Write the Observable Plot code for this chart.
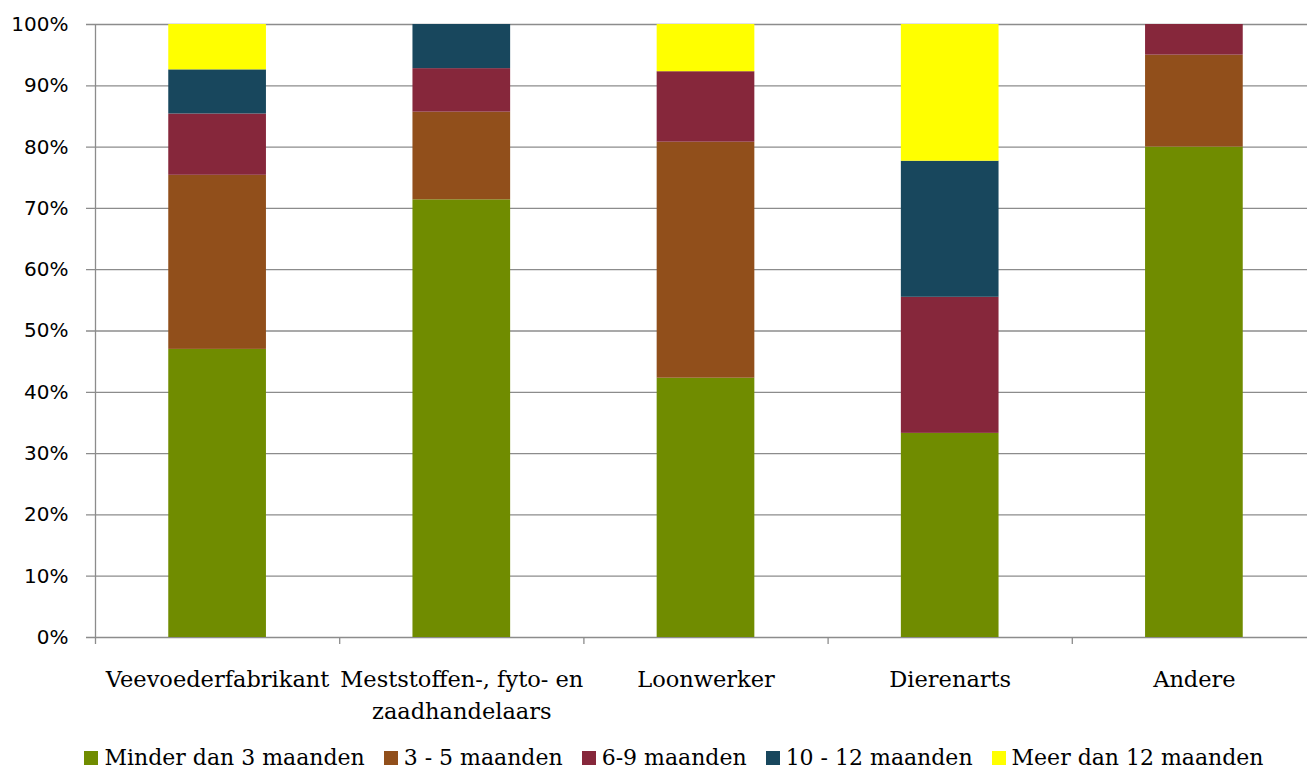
<!DOCTYPE html>
<html>
<head>
<meta charset="utf-8">
<script src="https://cdn.jsdelivr.net/npm/d3@7"></script>
<script src="https://cdn.jsdelivr.net/npm/@observablehq/plot@0.6"></script>
<style>
  html, body { margin: 0; padding: 0; background: #fff; overflow: hidden; }
  #chart svg { display: block; max-width: none !important; }
  #legend {
    display: flex; justify-content: center; align-items: center;
    width: 1307px; margin-top: 17px; padding-left: 60px; box-sizing: border-box;
    font-family: "DejaVu Serif", serif; font-size: 22px; line-height: 22px; color: #000;
  }
  .item { display: flex; align-items: center; margin-right: 19px; white-space: nowrap; }
  .sw { width: 14px; height: 14px; margin-right: 6px; display: inline-block; }
</style>
</head>
<body>
<div id="chart"></div>
<div id="legend"></div>
<script>
const categories = ["Veevoederfabrikant", "Meststoffen-, fyto- en zaadhandelaars", "Loonwerker", "Dierenarts", "Andere"];
const categoryLabels = ["Veevoederfabrikant", "Meststoffen-, fyto- en\nzaadhandelaars", "Loonwerker", "Dierenarts", "Andere"];
const series = ["Minder dan 3 maanden", "3 - 5 maanden", "6-9 maanden", "10 - 12 maanden", "Meer dan 12 maanden"];
const minderDan3 = [47.0, 71.4, 42.3, 33.3, 80.0];
const van3tot5 = [28.4, 14.3, 38.5, 0, 15.0];
const van6tot9 = [10.0, 7.1, 11.5, 22.2, 5.0];
const van10tot12 = [7.2, 7.2, 0, 22.2, 0];
const meerDan12 = [7.4, 0, 7.7, 22.3, 0];
const colors = ["#708C00", "#914F1B", "#86273B", "#18475D", "#FFFF00"];
const yTicks = [0, 10, 20, 30, 40, 50, 60, 70, 80, 90, 100];

const seriesValues = [minderDan3, van3tot5, van6tot9, van10tot12, meerDan12];
const data = [];
series.forEach((s, si) => {
  categories.forEach((c, ci) => {
    data.push({category: c, series: s, value: seriesValues[si][ci]});
  });
});

const W = 1316, H = 730, mL = 95, mR = 0, mT = 24, mB = 93;
const step = (W - mL - mR) / categories.length;
const labelOf = new Map(categories.map((c, i) => [c, categoryLabels[i]]));

const chart = Plot.plot({
  width: W, height: H,
  marginLeft: mL, marginRight: mR, marginTop: mT, marginBottom: mB,
  style: {fontFamily: "DejaVu Serif, serif", fontSize: "20px", color: "#000", background: "#fff", maxWidth: "none"},
  x: {domain: categories, paddingInner: 0.6, paddingOuter: 0.3, round: false, label: null},
  y: {domain: [0, 100], label: null},
  color: {domain: series, range: colors},
  marks: [
    Plot.gridY(yTicks, {stroke: "#8c8c8c", strokeOpacity: 1, strokeWidth: 1.3, insetLeft: -9}),
    Plot.barY(data, {x: "category", y: "value", fill: "series", order: series}),
    Plot.ruleX(categories.slice(1), {x: d => d, y1: 0, y2: 0, dx: -step / 2, insetBottom: -7, stroke: "#8c8c8c", strokeWidth: 1.3}),
    Plot.ruleX([categories[0]], {x: d => d, y1: 100, y2: 0, dx: -step / 2, insetBottom: -7, stroke: "#8c8c8c", strokeWidth: 1.3}),
    Plot.axisY(yTicks, {tickSize: 0, tickPadding: 27, tickFormat: d => d + "%", fontSize: 20, fontFamily: "DejaVu Sans, sans-serif", label: null}),
    Plot.axisX({tickSize: 0, tickPadding: 27, tickFormat: d => labelOf.get(d), fontSize: 22.5, lineHeight: 1.42, label: null})
  ]
});
document.getElementById("chart").append(chart);

const legend = document.getElementById("legend");
series.forEach((s, i) => {
  const item = document.createElement("span");
  item.className = "item";
  const sw = document.createElement("span");
  sw.className = "sw";
  sw.style.background = colors[i];
  item.append(sw, document.createTextNode(s));
  legend.append(item);
});
</script>
</body>
</html>
